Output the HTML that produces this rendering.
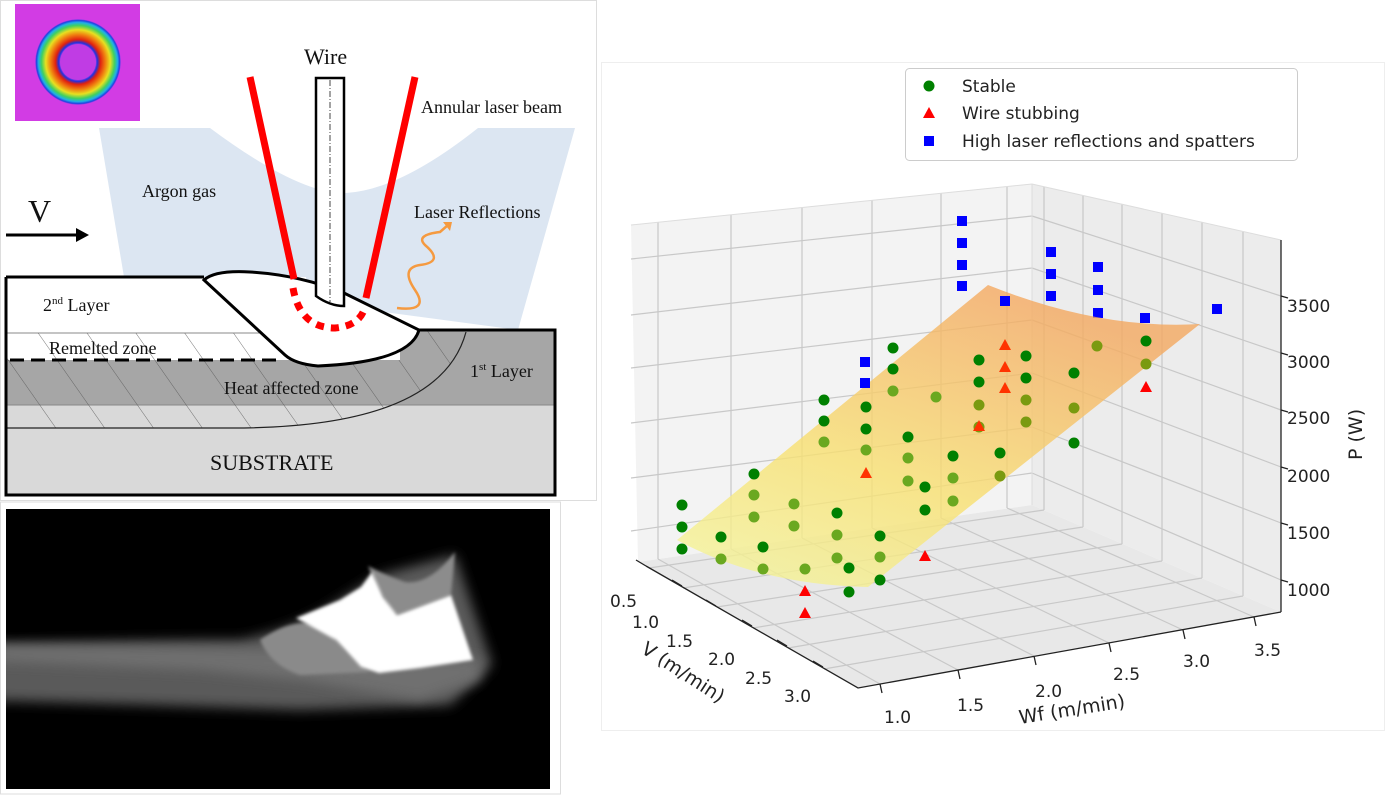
<!DOCTYPE html>
<html><head><meta charset="utf-8"><style>
html,body{margin:0;padding:0;background:#fff;}
svg{display:block;}
.s{font-family:"Liberation Serif",serif;fill:#111;}
.m{font-family:"DejaVu Sans","Liberation Sans",sans-serif;fill:#222;}
</style></head><body>
<svg width="1386" height="795" viewBox="0 0 1386 795" xmlns="http://www.w3.org/2000/svg">
<defs>
<radialGradient id="ring" cx="0.5" cy="0.5" r="0.5">
<stop offset="0" stop-color="#c440e6"/><stop offset="0.40" stop-color="#b048e6"/>
<stop offset="0.45" stop-color="#2030e0"/><stop offset="0.52" stop-color="#e02010"/>
<stop offset="0.64" stop-color="#f08010"/><stop offset="0.75" stop-color="#e8e020"/>
<stop offset="0.85" stop-color="#40d060"/><stop offset="0.92" stop-color="#20b0e8"/>
<stop offset="0.97" stop-color="#2040e0"/><stop offset="1" stop-color="#d040e8"/>
</radialGradient>
<pattern id="hatch" width="40" height="40" patternUnits="userSpaceOnUse" patternTransform="rotate(-35)">
<line x1="0" y1="0" x2="0" y2="40" stroke="#555" stroke-width="0.8"/>
</pattern>
<linearGradient id="surf" x1="0" y1="1" x2="0.6" y2="0">
<stop offset="0" stop-color="#f4f7a0"/><stop offset="0.45" stop-color="#f8e070"/>
<stop offset="1" stop-color="#f4a860"/>
</linearGradient>
<filter id="bl" x="-20%" y="-20%" width="140%" height="140%"><feGaussianBlur stdDeviation="6"/></filter>
<filter id="bl2"><feGaussianBlur stdDeviation="1.5"/></filter>
<clipPath id="cb"><rect x="6" y="509" width="544" height="280"/></clipPath>
</defs>

<!-- LEFT TOP DIAGRAM -->
<rect x="0.5" y="0.5" width="596" height="500" fill="#fff" stroke="#ddd"/>
<rect x="15" y="4" width="125" height="117" fill="#d23ce4"/>
<circle cx="78" cy="62" r="43" fill="url(#ring)"/>
<circle cx="78" cy="62" r="18" fill="#c03ce4"/>
<!-- argon -->
<path d="M99,128 L210,128 Q300,195 346,193 Q400,190 478,128 L575,128 L518,330 L124,277 Z" fill="#dce6f2"/>
<!-- V arrow -->
<text x="28" y="222" class="s" font-size="32">V</text>
<line x1="6" y1="235" x2="78" y2="235" stroke="#000" stroke-width="3"/>
<path d="M76,228 L89,235 L76,242 Z" fill="#000"/>
<!-- layers -->
<rect x="6" y="277" width="300" height="56" fill="#fff"/>
<rect x="6" y="333" width="300" height="27" fill="#fff"/>
<rect x="6" y="360" width="549" height="45" fill="#a6a6a6"/>
<rect x="400" y="330" width="155" height="75" fill="#a6a6a6"/>
<rect x="6" y="405" width="549" height="90" fill="#d9d9d9"/>
<line x1="6" y1="333" x2="290" y2="333" stroke="#888" stroke-width="1"/>
<line x1="6" y1="405" x2="555" y2="405" stroke="#888" stroke-width="1"/>
<path d="M6,333 L290,333 L318,365 L400,360 L419,330 L466,332 Q440,428 233,428 L6,428 Z" fill="url(#hatch)"/>
<path d="M466,332 Q440,428 233,428 L6,428" fill="none" stroke="#222" stroke-width="1.2"/>
<line x1="10" y1="360" x2="283" y2="360" stroke="#000" stroke-width="3" stroke-dasharray="14,7"/>
<path d="M6,277 L204,277 M6,277 L6,495 L555,495 L555,330 L419,330" fill="none" stroke="#000" stroke-width="3"/>
<!-- pool -->
<path d="M204,280 Q215,270 250,272 Q300,275 344,293 L419,330 Q410,362 318,366 Q295,364 285,355 Z" fill="#fff" stroke="#000" stroke-width="3"/>
<!-- beams -->
<line x1="250" y1="77" x2="294" y2="279" stroke="#f00" stroke-width="7"/>
<line x1="415" y1="77" x2="366" y2="298" stroke="#f00" stroke-width="7"/>
<path d="M293,288 Q300,328 335,328 Q358,326 364,310" fill="none" stroke="#f00" stroke-width="7" stroke-dasharray="8,7"/>
<!-- wire -->
<path d="M316,78 L344,78 L344,306 Q330,306 316,296 Z" fill="#fff" stroke="#000" stroke-width="2.5"/>
<line x1="330" y1="80" x2="330" y2="302" stroke="#444" stroke-width="1" stroke-dasharray="6,2,1,2"/>
<!-- orange squiggle -->
<path d="M397,308 Q430,312 415,290 Q400,268 420,265 Q445,262 425,245 Q415,235 440,232 L448,225" fill="none" stroke="#f59a40" stroke-width="2.5"/>
<path d="M443,222 L452,222 L450,231 Z" fill="#f59a40"/>
<!-- text -->
<text x="304" y="64" class="s" font-size="22">Wire</text>
<text x="421" y="113" class="s" font-size="18">Annular laser beam</text>
<text x="142" y="197" class="s" font-size="18">Argon gas</text>
<text x="414" y="218" class="s" font-size="18">Laser Reflections</text>
<text x="43" y="311" class="s" font-size="18">2<tspan font-size="11" dy="-7">nd</tspan><tspan dy="7"> Layer</tspan></text>
<text x="49" y="354" class="s" font-size="18">Remelted zone</text>
<text x="470" y="377" class="s" font-size="18">1<tspan font-size="11" dy="-7">st</tspan><tspan dy="7"> Layer</tspan></text>
<text x="224" y="394" class="s" font-size="18">Heat affected zone</text>
<text x="210" y="470" class="s" font-size="22">SUBSTRATE</text>

<!-- BOTTOM IMAGE -->
<rect x="0.5" y="502" width="560" height="292" fill="#fff" stroke="#ddd"/>
<rect x="6" y="509" width="544" height="280" fill="#000"/>
<g clip-path="url(#cb)">
<path d="M-20,645 Q150,640 240,640 Q300,628 340,600 L380,575 L455,555 L470,600 L492,665 L450,705 L300,710 L150,705 L-20,700 Z" fill="#5a5a5a" filter="url(#bl)"/>
<path d="M-20,660 L200,670 L300,680 L420,700 L480,680 L480,660 L300,650 L-20,645 Z" fill="#707070" filter="url(#bl)"/>
<path d="M260,640 Q300,612 330,630 Q350,660 370,672 L300,675 Q270,665 260,640 Z" fill="#8a8a8a" filter="url(#bl2)"/>
<path d="M368,566 Q378,590 383,597 Q390,612 397,615 L451,595 L455,552 Q430,585 405,582 Q385,575 368,566 Z" fill="#8c8c8c" filter="url(#bl2)"/>
<path d="M296,618 L340,600 L361,587 L372,572 L383,597 L397,615 L451,595 L473,660 L420,668 L379,673 L361,667 L336,640 Z" fill="#fff" filter="url(#bl2)"/>
</g>

<!-- RIGHT 3D PLOT -->
<rect x="601.5" y="62.5" width="783" height="668" fill="#fff" stroke="#eee"/>
<path d="M631,225 L1032,184 L1032,505 L638,562 Z" fill="#f3f3f3"/>
<path d="M1032,184 L1281,240 L1281,612 L1032,505 Z" fill="#ececec"/>
<path d="M638,562 L1032,505 L1281,612 L858,688 Z" fill="#e8e8e8"/>
<g stroke="#c8c8c8" stroke-width="1.2" fill="none">
<path d="M631,259 L1032,216 M631,315 L1032,268 M631,368 L1032,320 M631,423 L1032,373 M631,478 L1032,427 M631,531 L1032,473"/>
<path d="M1032,216 L1281,296 M1032,268 L1281,353 M1032,320 L1281,410 M1032,373 L1281,467 M1032,427 L1281,523 M1032,473 L1281,580"/>
<path d="M658,222 L658,559 M731,215 L731,549 M802,208 L802,538 M872,200 L872,528 M941,193 L941,518 M1007,187 L1007,508"/>
<path d="M1044,187 L1044,510 M1083,196 L1083,527 M1122,204 L1122,544 M1162,213 L1162,561 M1202,222 L1202,578 M1243,232 L1243,596"/>
<path d="M658,559 L880,684 M731,549 L958,670 M802,538 L1034,656 M872,528 L1109,643 M941,518 L1183,630 M1007,508 L1254,617"/>
<path d="M1044,510 L649,568 M1083,527 L683,588 M1122,544 L717,607 M1162,561 L753,628 M1202,578 L788,648 M1243,596 L824,669"/>
</g>
<g stroke="#ddd" stroke-width="1" fill="none"><path d="M631,225 L1032,184 L1281,240 M1032,184 L1032,505"/></g>
<g stroke="#222" stroke-width="1.3" fill="none">
<path d="M1281,240 L1281,612"/>
<path d="M1281,296 l7,2 M1281,353 l7,2 M1281,410 l7,2 M1281,467 l7,2 M1281,523 l7,2 M1281,580 l7,2"/>
<path d="M646,566 L858,688 L1281,612"/>
<path d="M646,566 l-10,-6 M682,586 l-10,-6 M716,606 l-10,-6 M752,626 l-10,-6 M787,646 l-10,-6 M823,667 l-10,-6"/>
<path d="M880,684 l2,9 M958,670 l2,9 M1034,656 l2,9 M1109,643 l2,9 M1183,630 l2,9 M1254,617 l2,9"/>
</g>
<g class="m" font-size="17">
<text x="1287" y="312">3500</text><text x="1287" y="368">3000</text><text x="1287" y="424">2500</text>
<text x="1287" y="482">2000</text><text x="1287" y="539">1500</text><text x="1287" y="596">1000</text>
<text x="610" y="607">0.5</text><text x="632" y="628">1.0</text><text x="666" y="647">1.5</text>
<text x="708" y="665">2.0</text><text x="745" y="684">2.5</text><text x="784" y="702">3.0</text>
<text x="884" y="723">1.0</text><text x="957" y="711">1.5</text><text x="1035" y="697">2.0</text>
<text x="1113" y="680">2.5</text><text x="1183" y="667">3.0</text><text x="1254" y="656">3.5</text>
</g>
<text class="m" font-size="19" transform="translate(640,652) rotate(33)">V (m/min)</text>
<text class="m" font-size="19" transform="translate(1020,724) rotate(-9)">Wf (m/min)</text>
<text class="m" font-size="19" transform="translate(1362,460) rotate(-90)">P (W)</text>

<g fill="#0000ff">
<rect x="957" y="216" width="10" height="10"/><rect x="957" y="238" width="10" height="10"/><rect x="957" y="260" width="10" height="10"/><rect x="957" y="281" width="10" height="10"/>
<rect x="1046" y="247" width="10" height="10"/><rect x="1046" y="269" width="10" height="10"/><rect x="1046" y="291" width="10" height="10"/>
<rect x="1093" y="262" width="10" height="10"/><rect x="1093" y="285" width="10" height="10"/><rect x="1093" y="308" width="10" height="10"/>
<rect x="1212" y="304" width="10" height="10"/>
</g>
<path d="M677,540 L988,285 Q1100,330 1200,324 L868,587 Q760,585 677,540 Z" fill="url(#surf)" opacity="0.8"/>
<g fill="#0000ff"><rect x="1000" y="296" width="10" height="10"/><rect x="1140" y="313" width="10" height="10"/>
<rect x="860" y="357" width="10" height="10"/><rect x="860" y="378" width="10" height="10"/></g>
<g fill="#008000">
<circle cx="893" cy="348" r="5.5"/><circle cx="893" cy="369" r="5.5"/><circle cx="824" cy="400" r="5.5"/><circle cx="824" cy="421" r="5.5"/>
<circle cx="866" cy="407" r="5.5"/><circle cx="866" cy="429" r="5.5"/><circle cx="979" cy="360" r="5.5"/><circle cx="979" cy="382" r="5.5"/>
<circle cx="1026" cy="356" r="5.5"/><circle cx="1026" cy="378" r="5.5"/><circle cx="1074" cy="373" r="5.5"/><circle cx="1074" cy="443" r="5.5"/>
<circle cx="1146" cy="341" r="5.5"/><circle cx="908" cy="437" r="5.5"/><circle cx="953" cy="456" r="5.5"/><circle cx="1000" cy="453" r="5.5"/>
<circle cx="925" cy="487" r="5.5"/><circle cx="925" cy="510" r="5.5"/><circle cx="754" cy="474" r="5.5"/><circle cx="682" cy="505" r="5.5"/>
<circle cx="682" cy="527" r="5.5"/><circle cx="682" cy="549" r="5.5"/><circle cx="721" cy="537" r="5.5"/><circle cx="763" cy="547" r="5.5"/>
<circle cx="837" cy="513" r="5.5"/><circle cx="880" cy="536" r="5.5"/><circle cx="880" cy="580" r="5.5"/><circle cx="849" cy="592" r="5.5"/>
<circle cx="849" cy="568" r="5.5"/>
</g>
<g fill="#6aa820">
<circle cx="893" cy="391" r="5.5"/><circle cx="824" cy="442" r="5.5"/><circle cx="866" cy="450" r="5.5"/><circle cx="936" cy="397" r="5.5"/>
<circle cx="908" cy="458" r="5.5"/><circle cx="908" cy="481" r="5.5"/><circle cx="953" cy="478" r="5.5"/><circle cx="953" cy="501" r="5.5"/>
<circle cx="754" cy="495" r="5.5"/><circle cx="754" cy="517" r="5.5"/><circle cx="794" cy="504" r="5.5"/><circle cx="794" cy="526" r="5.5"/>
<circle cx="837" cy="535" r="5.5"/><circle cx="880" cy="557" r="5.5"/><circle cx="721" cy="559" r="5.5"/><circle cx="763" cy="569" r="5.5"/>
<circle cx="805" cy="569" r="5.5"/><circle cx="837" cy="558" r="5.5"/>
</g>
<g fill="#7a9a10">
<circle cx="979" cy="405" r="5.5"/><circle cx="1026" cy="400" r="5.5"/><circle cx="1026" cy="422" r="5.5"/><circle cx="1074" cy="408" r="5.5"/>
<circle cx="1097" cy="346" r="5.5"/><circle cx="1146" cy="364" r="5.5"/><circle cx="979" cy="427" r="5.5"/><circle cx="1000" cy="476" r="5.5"/>
</g>
<g fill="#ff3300">
<path d="M1005,339 l6,11 h-12 Z"/><path d="M1005,361 l6,11 h-12 Z"/><path d="M1005,382 l6,11 h-12 Z"/><path d="M979,420 l6,11 h-12 Z"/><path d="M866,467 l6,11 h-12 Z"/>
</g>
<g fill="#ff0000">
<path d="M1146,381 l6,11 h-12 Z"/><path d="M925,550 l6,11 h-12 Z"/><path d="M805,585 l6,11 h-12 Z"/><path d="M805,607 l6,11 h-12 Z"/>
</g>

<rect x="905.5" y="68.5" width="392" height="92" rx="4" fill="#fff" stroke="#ccc"/>
<circle cx="929" cy="86" r="5.5" fill="#008000"/>
<path d="M929,107 l6,11 h-12 Z" fill="#ff0000"/>
<rect x="924" y="136" width="10" height="10" fill="#0000ff"/>
<g class="m" font-size="17">
<text x="962" y="92">Stable</text>
<text x="962" y="119">Wire stubbing</text>
<text x="962" y="147">High laser reflections and spatters</text>
</g>
</svg>
</body></html>
